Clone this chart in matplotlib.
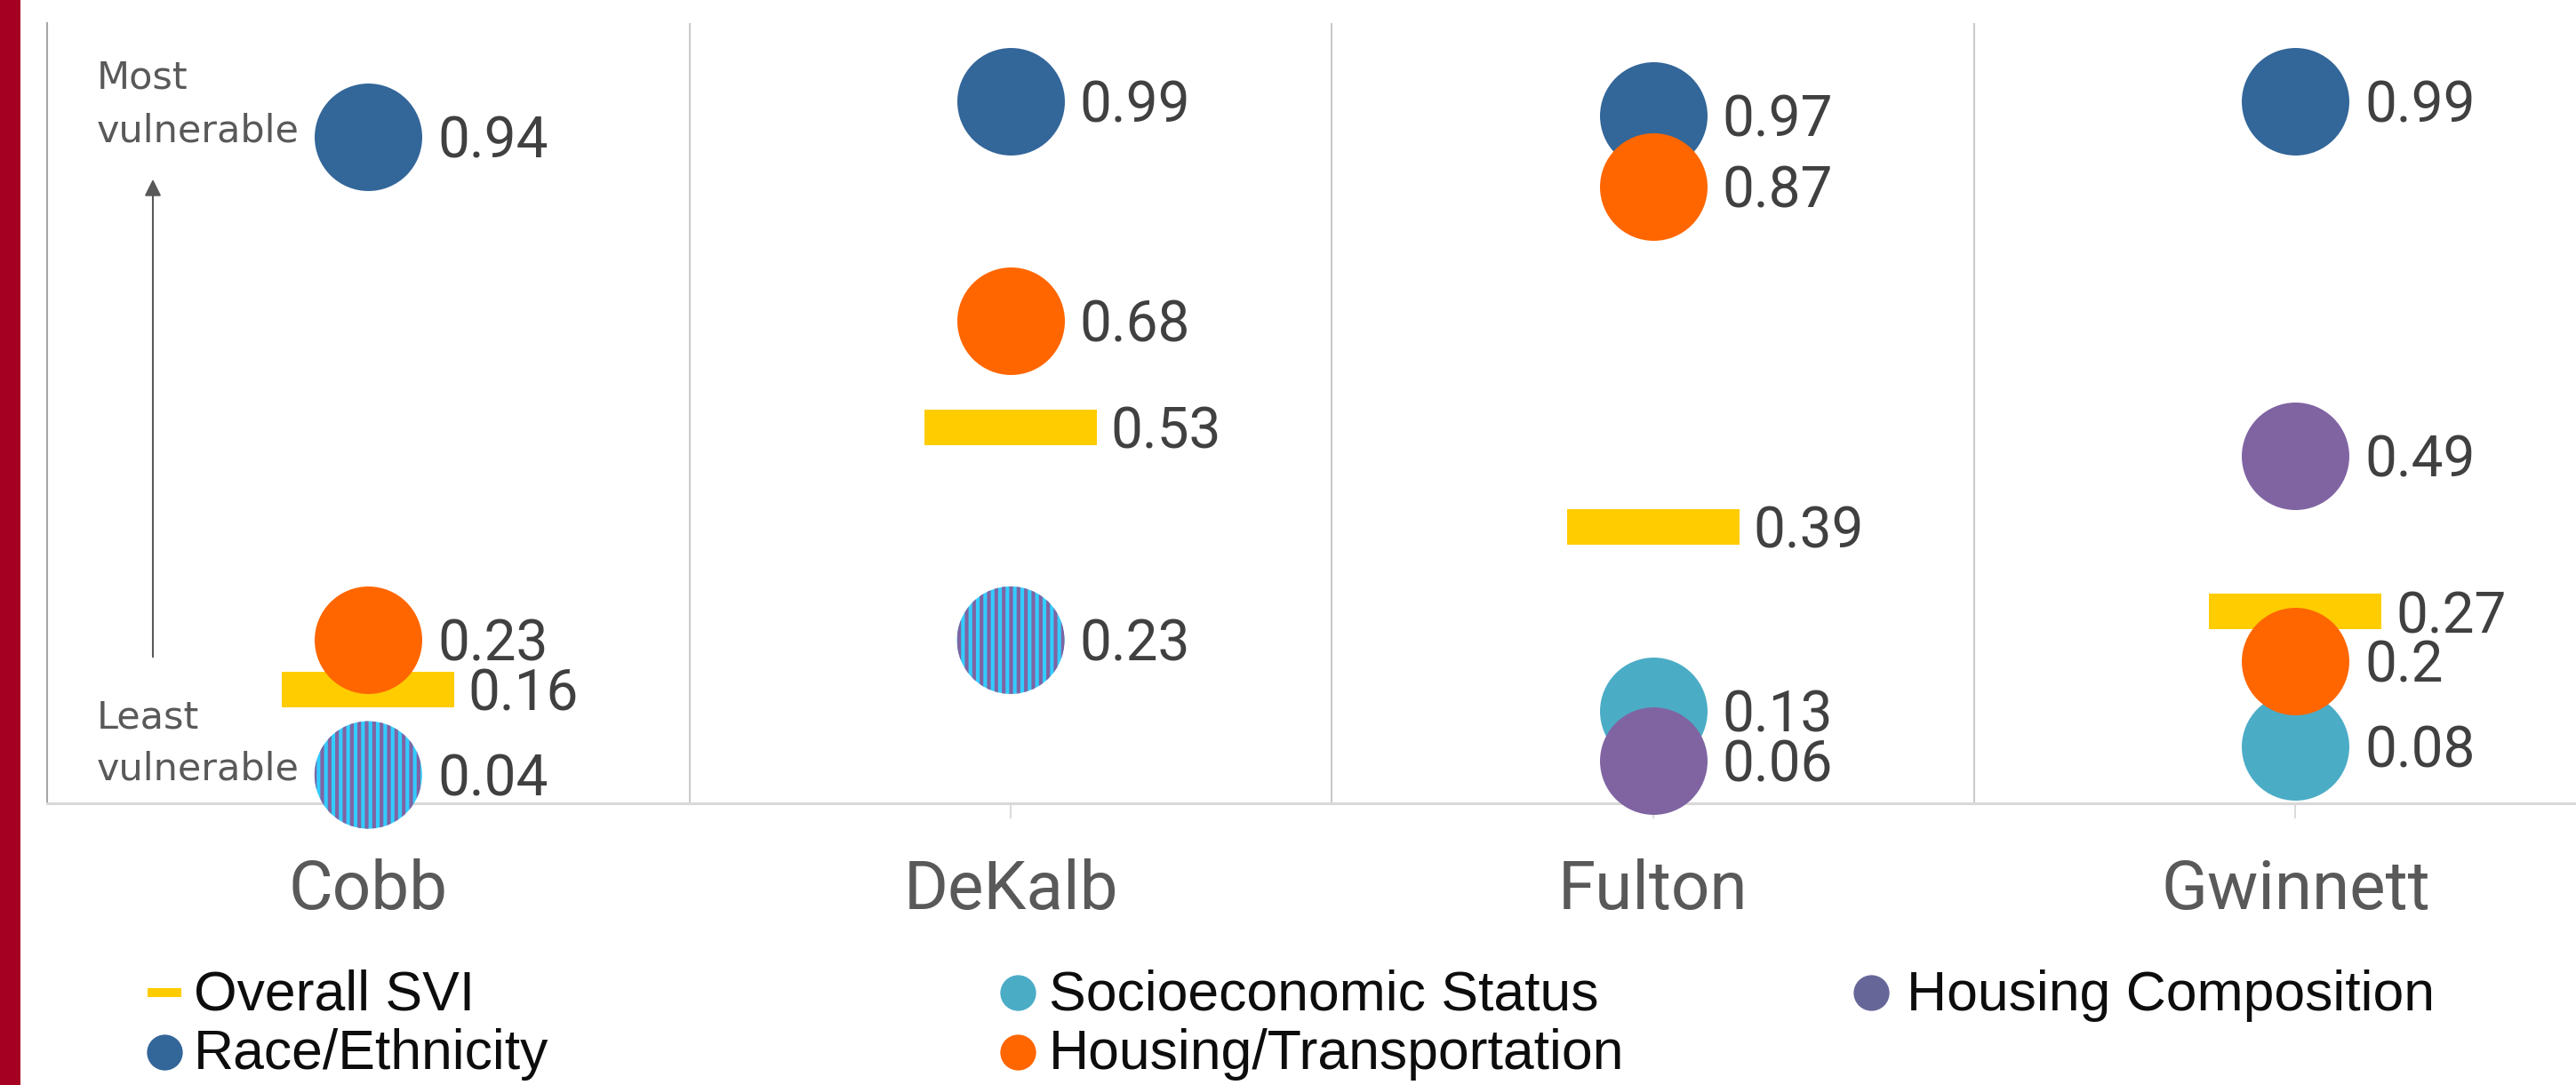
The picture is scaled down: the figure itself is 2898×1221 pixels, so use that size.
import numpy as np
import matplotlib
matplotlib.use("Agg")
import matplotlib.pyplot as plt

# SVI percentile rankings per county
counties = ["Cobb", "DeKalb", "Fulton", "Gwinnett"]
overall_svi = [0.16, 0.53, 0.39, 0.27]
socioeconomic = [0.04, 0.23, 0.13, 0.08]
housing_comp = [0.04, 0.23, 0.06, 0.49]
race_ethnicity = [0.94, 0.99, 0.97, 0.99]
housing_transport = [0.23, 0.68, 0.87, 0.20]

legend_names = ["Overall SVI", "Socioeconomic Status", "Housing Composition",
                "Race/Ethnicity", "Housing/Transportation"]
legend_colors = ["#FFCC00", "#4BACC6", "#666699", "#336699", "#FF6600"]

plt.rcParams['hatch.color'] = '#8064A2'
plt.rcParams['hatch.linewidth'] = 3.0

W, H = 2898, 1221
fig = plt.figure(figsize=(W / 100, H / 100), dpi=100)
ax = fig.add_axes([53 / W, (H - 904) / H, 4 * 722.7 / W, 878 / H])
ax.set_facecolor('none')

x = np.arange(len(counties))
circle_s = 87.1 ** 2
bar_marker = [(-1, -0.206), (1, -0.206), (1, 0.206), (-1, 0.206)]


def label(xi, v, off):
    ax.annotate(f"{v:g}", (xi, v), xytext=(off, -4), textcoords='offset points',
                ha='left', va='center', fontsize=46, family='Roboto',
                color='#404040', zorder=10, annotation_clip=False)


# overall SVI bars
ax.scatter(x, overall_svi, s=139.7 ** 2, marker=bar_marker, color='#FFCC00',
           linewidths=0, zorder=2, clip_on=False)
for xi, v in zip(x, overall_svi):
    label(xi, v, 81)

# socioeconomic / housing composition (striped where they coincide)
same = [a == b for a, b in zip(socioeconomic, housing_comp)]
for xi, s_v, c_v, eq in zip(x, socioeconomic, housing_comp, same):
    if eq:
        ax.scatter([xi], [s_v], s=circle_s, facecolor='#33CCFF', edgecolor='#8064A2',
                   hatch='||', linewidths=0, zorder=6, clip_on=False)
        label(xi, s_v, 56)
    else:
        ax.scatter([xi], [s_v], s=circle_s, color='#4BACC6', linewidths=0,
                   zorder=3, clip_on=False)
        ax.scatter([xi], [c_v], s=circle_s, color='#8064A2', linewidths=0,
                   zorder=6, clip_on=False)
        label(xi, s_v, 56)
        label(xi, c_v, 56)

ax.scatter(x, race_ethnicity, s=circle_s, color='#336699', linewidths=0, zorder=4, clip_on=False)
ax.scatter(x, housing_transport, s=circle_s, color='#FF6600', linewidths=0, zorder=5, clip_on=False)
for xi, v in zip(x, race_ethnicity):
    label(xi, v, 56)
for xi, v in zip(x, housing_transport):
    label(xi, v, 56)

ax.set_xlim(-0.5, len(counties) - 0.5)
ax.set_ylim(0, 1.1)
ax.set_yticks([])
ax.set_xticks(x)
ax.set_xticklabels(counties, fontsize=55, family='Roboto', color='#595959')
ax.tick_params(axis='x', length=12, width=1.4, color='#D9D9D9', pad=33)
for s in ['top', 'right']:
    ax.spines[s].set_visible(False)
ax.spines['left'].set_color('#A6A6A6')
ax.spines['left'].set_linewidth(1.5)
ax.spines['bottom'].set_color('#D9D9D9')
ax.spines['bottom'].set_linewidth(2.2)
for b in x[:-1] + 0.5:
    ax.axvline(b, color='#BFBFBF', lw=1.2, zorder=1)

# overlay in pixel coordinates for legend and side notes
ov = fig.add_axes([0, 0, 1, 1])
ov.set_xlim(0, W)
ov.set_ylim(H, 0)
ov.axis('off')
ov.add_patch(plt.Rectangle((0, 0), 23, H, color='#A50021', lw=0))

side = '#595959'
ov.text(109, 88, "Most", fontsize=31, family='DejaVu Sans', color=side, va='center')
ov.text(109, 147, "vulnerable", fontsize=31, family='DejaVu Sans', color=side, va='center')
ov.text(109, 807, "Least", fontsize=31, family='DejaVu Sans', color=side, va='center')
ov.text(109, 866, "vulnerable", fontsize=31, family='DejaVu Sans', color=side, va='center')
ov.annotate('', xy=(172, 199), xytext=(172, 742),
            arrowprops=dict(arrowstyle='-|>', color='#595959', lw=1.5, mutation_scale=28))

leg_marker_x = [185, 1145, 2105, 185, 1145]
leg_text_x = [218, 1180, 2145, 218, 1180]
leg_y = [1117, 1117, 1117, 1184, 1184]
for i, (name, col) in enumerate(zip(legend_names, legend_colors)):
    if i == 0:
        ov.scatter([leg_marker_x[i]], [leg_y[i]], s=28 ** 2,
                   marker=[(-1, -0.26), (1, -0.26), (1, 0.26), (-1, 0.26)],
                   color=col, linewidths=0)
    else:
        ov.scatter([leg_marker_x[i]], [leg_y[i]], s=29 ** 2, color=col, linewidths=0)
    ov.text(leg_text_x[i], leg_y[i] + 3, name, fontsize=45, family='Liberation Sans',
            color='#0D0D0D', va='center', ha='left')

fig.savefig("out.png", dpi=100)
